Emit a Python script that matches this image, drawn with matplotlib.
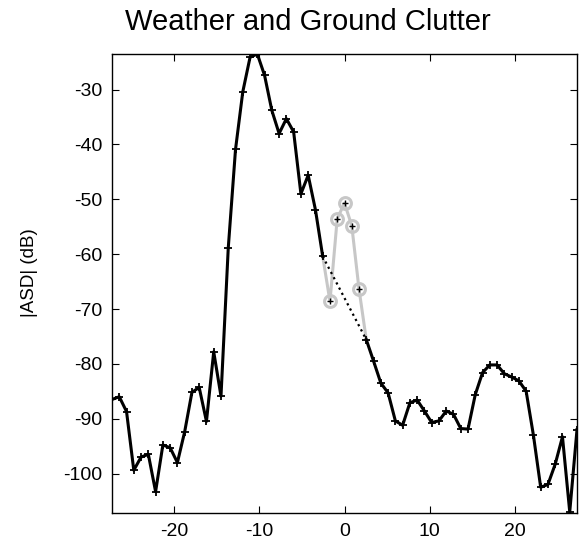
import numpy as np
import matplotlib
matplotlib.use("Agg")
import matplotlib.pyplot as plt

plt.rcParams['font.family'] = ['Liberation Sans', 'DejaVu Sans']
plt.rcParams['axes.unicode_minus'] = False

# velocity bins (m/s) and spectrum power (dB)
vel = np.linspace(-27.3, 27.3, 65)
asd = [-86.5, -86.0, -88.7, -99.4, -97.0, -96.5, -103.3, -94.8, -95.3, -98.0,
       -92.4, -85.2, -84.3, -90.5, -77.8, -85.9, -58.9, -40.9, -30.4, -24.1,
       -23.5, -27.4, -33.8, -38.0, -35.3, -37.7, -49.0, -45.6, -51.9, -60.4,
       -68.6, -53.5, -50.7, -54.8, -66.4, -75.6, -79.5, -83.5, -85.3, -90.4,
       -91.2, -87.1, -86.6, -88.6, -90.7, -90.4, -88.6, -89.2, -91.8, -91.9,
       -85.6, -81.6, -80.2, -80.2, -81.8, -82.4, -83.1, -85.0, -93.0, -102.5,
       -102.0, -98.3, -93.3, -107.0, -92.0]

# clutter bins (index range) removed and bridged
clut_lo, clut_hi = 29, 35

vel = np.asarray(vel)
asd = np.asarray(asd)

fig = plt.figure(figsize=(5.8, 5.47), dpi=100)
ax = fig.add_axes([112/580, 1 - 513/547, (577 - 112)/580, (513 - 54)/547])

# weather part (clutter bins blanked)
wx = asd.copy()
wx[clut_lo + 1:clut_hi] = np.nan
ax.plot(vel, wx, '-', color='black', lw=2.2, marker='+', ms=5.5, mew=1.3, zorder=3)

# original clutter bins in gray
cv = vel[clut_lo:clut_hi + 1]
ca = asd[clut_lo:clut_hi + 1]
ax.plot(cv, ca, '-', color='0.78', lw=2.2, zorder=2)
ax.plot(cv[1:-1], ca[1:-1], 'o', mfc='none', mec='0.78', mew=2.2, ms=8.5, zorder=2)
ax.plot(cv[1:-1], ca[1:-1], '+', color='black', ms=4, mew=1.0, zorder=3)

# interpolated bridge
ax.plot([vel[clut_lo], vel[clut_hi]], [asd[clut_lo], asd[clut_hi]], ':',
        color='black', lw=1.6, zorder=3)

ax.set_xlim(vel[0], vel[-1])
ax.set_ylim(-107.2, -23.5)
ax.set_xticks([-20, -10, 0, 10, 20])
ax.set_yticks([-100, -90, -80, -70, -60, -50, -40, -30])
ax.tick_params(direction='in', length=5, top=True, right=True,
               labelsize=14, pad=7)
for s in ax.spines.values():
    s.set_linewidth(1.0)

fig.text(30/580, 1 - 273/547, '|ASD| (dB)', fontsize=13.5, rotation=90,
         ha='center', va='center')
fig.text(308/580, 1 - 22/547, 'Weather and Ground Clutter', fontsize=21,
         ha='center', va='center')

fig.savefig('out.png', dpi=100)
